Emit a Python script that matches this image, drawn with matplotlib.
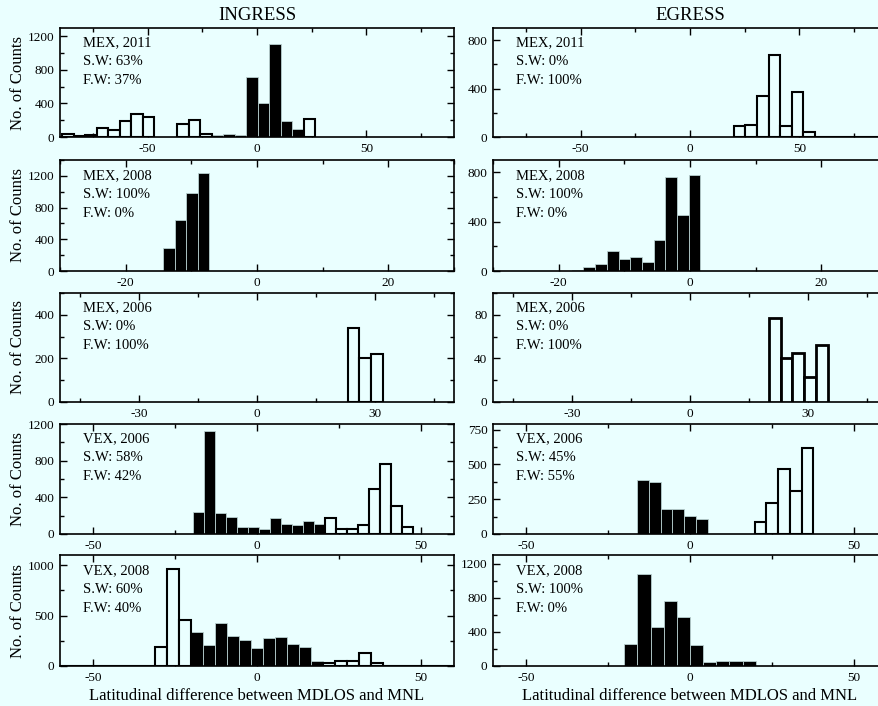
import numpy as np
import matplotlib
matplotlib.use("Agg")
import matplotlib.pyplot as plt
from matplotlib.ticker import MultipleLocator

plt.rcParams["font.family"] = ["Liberation Serif", "DejaVu Serif"]
plt.rcParams["axes.unicode_minus"] = False

BG = "#eaffff"

# -------------------- DATA --------------------
# each panel: bin start, bin width, counts, kind per bin (K = black/slow wind, W = white/fast wind, . = empty)
# ---- INGRESS ----
L1_START, L1_WIDTH = -89.0, 5.25
L1_COUNTS = [30, 15, 25, 110, 85, 185, 270, 240, 0, 0, 160, 205, 30,
             20, 40, 20, 720, 400, 1110, 185, 100, 215]
L1_KIND = "WWWWWWWW..WWWKKKKKKKKW"

L2_START, L2_WIDTH = -14.3, 1.75
L2_COUNTS = [290, 640, 985, 1230]
L2_KIND = "KKKK"

L3_START, L3_WIDTH = 23.0, 3.0
L3_COUNTS = [340, 200, 220]
L3_KIND = "WWW"

L4_START, L4_WIDTH = -19.5, 3.35
L4_COUNTS = [240, 1120, 230, 190, 80, 80, 55, 180, 110, 95, 140, 105,
             175, 60, 50, 100, 490, 760, 310, 75]
L4_KIND = "KKKKKKKKKKKKWWWWWWWW"

L5_START, L5_WIDTH = -60.2, 3.65
L5_COUNTS = [0, 0, 0, 0, 0, 0, 0, 0,
             190, 960, 460,
             340, 205, 430, 300, 255, 175, 280, 290, 215, 185, 45,
             25, 50, 50, 125, 25,
             0, 0, 0, 0, 0, 0]
L5_KIND = "WWWWWWWW" + "WWW" + "KKKKKKKKKKK" + "WWWWW" + "WWWWWW"

# ---- EGRESS ----
R1_START, R1_WIDTH = 20.0, 5.3
R1_COUNTS = [90, 100, 340, 675, 90, 370, 40, 0, 0, 0, 0, 0, 0, 0]
R1_KIND = "WWWWWWWWWWWWWW"

R2_START, R2_WIDTH = -18.0, 1.78
R2_COUNTS = [5, 35, 60, 165, 100, 115, 75, 250, 765, 455, 775]
R2_KIND = "KKKKKKKKKKK"

R3_START, R3_WIDTH = 20.0, 3.0
R3_COUNTS = [77, 40, 45, 23, 52]
R3_KIND = "WWWWW"

R4_START, R4_WIDTH = -16.1, 3.58
R4_COUNTS = [390, 375, 180, 180, 130, 105, 0, 0, 0, 0, 85, 220, 465, 310, 620]
R4_KIND = "KKKKKK....WWWWW"

R5_START, R5_WIDTH = -20.0, 4.0
R5_COUNTS = [255, 1080, 460, 765, 570, 245, 45, 55, 55, 60]
R5_KIND = "KKKKKKKKKK"

LABELS_ING = [("MEX, 2011", "63%", "37%"), ("MEX, 2008", "100%", "0%"),
              ("MEX, 2006", "0%", "100%"), ("VEX, 2006", "58%", "42%"),
              ("VEX, 2008", "60%", "40%")]
LABELS_EGR = [("MEX, 2011", "0%", "100%"), ("MEX, 2008", "100%", "0%"),
              ("MEX, 2006", "0%", "100%"), ("VEX, 2006", "45%", "55%"),
              ("VEX, 2008", "100%", "0%")]

# -------------------- AXES SETUP --------------------
# per row: x half-range, x major, x minor
XCFG = [(90, 50, 25), (30, 20, 10), (50, 30, 15), (60, 50, 25), (60, 50, 25)]
# per panel: ylim, y major
YCFG_ING = [(1300, 400), (1400, 400), (500, 200), (1200, 400), (1100, 500)]
YCFG_EGR = [(900, 400), (900, 400), (100, 40), (790, 250), (1300, 400)]

ING = [(L1_START, L1_WIDTH, L1_COUNTS, L1_KIND), (L2_START, L2_WIDTH, L2_COUNTS, L2_KIND),
       (L3_START, L3_WIDTH, L3_COUNTS, L3_KIND), (L4_START, L4_WIDTH, L4_COUNTS, L4_KIND),
       (L5_START, L5_WIDTH, L5_COUNTS, L5_KIND)]
EGR = [(R1_START, R1_WIDTH, R1_COUNTS, R1_KIND), (R2_START, R2_WIDTH, R2_COUNTS, R2_KIND),
       (R3_START, R3_WIDTH, R3_COUNTS, R3_KIND), (R4_START, R4_WIDTH, R4_COUNTS, R4_KIND),
       (R5_START, R5_WIDTH, R5_COUNTS, R5_KIND)]

W_PX, H_PX = 879, 706
ROWS_PX = [(28, 137), (160, 271), (293, 402), (424, 534), (555, 666)]
COL_X_PX = [60, 493]
AX_W_PX = 394


def draw_hist(ax, start, width, counts, kind, wlw=1.5):
    counts = np.asarray(counts, dtype=float)
    left = start + width * np.arange(len(counts))
    kind = np.array(list(kind))
    k = kind == "K"
    w = kind == "W"
    ax.bar(left[k], counts[k], width=width, align="edge",
           color="black", edgecolor="#b8d0d0", linewidth=0.6, zorder=2)
    ax.bar(left[w], counts[w], width=width, align="edge",
           color=BG, edgecolor="black", linewidth=wlw, zorder=3)


def style_axes(ax, xc, yc):
    half, xmaj, xmin = xc
    ymax, ymaj = yc
    ax.set_xlim(-half, half)
    ax.set_ylim(0, ymax)
    ax.xaxis.set_major_locator(MultipleLocator(xmaj))
    ax.xaxis.set_minor_locator(MultipleLocator(xmin))
    ax.yaxis.set_major_locator(MultipleLocator(ymaj))
    ax.yaxis.set_minor_locator(MultipleLocator(ymaj / 2))
    ax.tick_params(which="both", direction="in", top=True, right=True,
                   labelsize=9.5, width=1.0, pad=4)
    ax.tick_params(which="major", length=5)
    ax.tick_params(which="minor", length=3)
    for s in ax.spines.values():
        s.set_linewidth(1.2)
    ax.set_facecolor(BG)


fig = plt.figure(figsize=(W_PX / 100, H_PX / 100), dpi=100)
fig.patch.set_facecolor(BG)

for col, (data, ycfg, labels) in enumerate([(ING, YCFG_ING, LABELS_ING),
                                            (EGR, YCFG_EGR, LABELS_EGR)]):
    for row in range(5):
        top, bot = ROWS_PX[row]
        ax = fig.add_axes([COL_X_PX[col] / W_PX, 1 - bot / H_PX,
                           AX_W_PX / W_PX, (bot - top) / H_PX])
        start, width, counts, kind = data[row]
        wlw = 2.0 if (col == 1 and row == 2) else 1.5
        draw_hist(ax, start, width, counts, kind, wlw)
        style_axes(ax, XCFG[row], ycfg[row])
        name, sw, fw = labels[row]
        for i, t in enumerate([name, "S.W: " + sw, "F.W: " + fw]):
            ax.text(0.058, 0.862 - i * 0.17, t, transform=ax.transAxes,
                    ha="left", va="center", fontsize=10.5)
        if col == 0:
            fig.text(18 / W_PX, 1 - (top + bot) / 2 / H_PX, "No. of Counts",
                     rotation=90, ha="center", va="center", fontsize=12)
        if row == 4:
            ax.set_xlabel("Latitudinal difference between MDLOS and MNL",
                          fontsize=12, labelpad=3)

fig.text(257 / W_PX, 1 - 15 / H_PX, "INGRESS", ha="center", va="center", fontsize=13.5)
fig.text(690 / W_PX, 1 - 15 / H_PX, "EGRESS", ha="center", va="center", fontsize=13.5)

fig.savefig("out.png", dpi=100, facecolor=BG)
